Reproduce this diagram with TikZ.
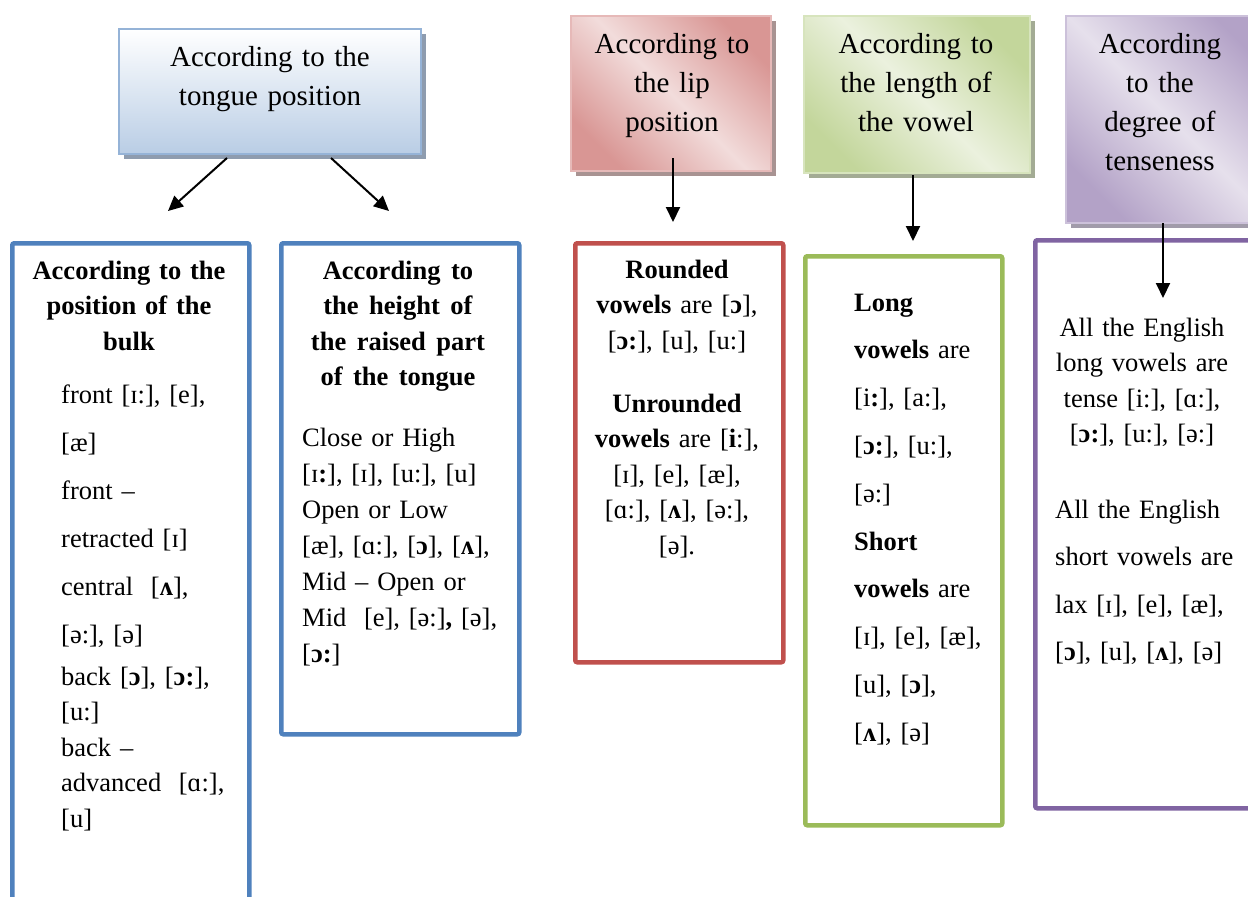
\documentclass[tikz,border=0pt]{standalone}
\usepackage{fontspec}
\setmainfont{Liberation Serif}
\usetikzlibrary{arrows.meta,shadows}
\definecolor{bblue}{HTML}{4F81BD}
\definecolor{bred}{HTML}{C0504D}
\definecolor{bgreen}{HTML}{9BBB59}
\definecolor{bpurple}{HTML}{8064A2}
\definecolor{tblueL}{HTML}{B9CDE5}
\definecolor{tblueB}{HTML}{95B3D7}
\definecolor{tblueS}{HTML}{8E9CAF}
\definecolor{tredD}{HTML}{D99694}
\definecolor{tredL}{HTML}{F2DCDB}
\definecolor{tredB}{HTML}{E6B9B8}
\definecolor{tredS}{HTML}{A89392}
\definecolor{tgreenD}{HTML}{C3D69B}
\definecolor{tgreenL}{HTML}{EBF1DE}
\definecolor{tgreenB}{HTML}{D7E4BD}
\definecolor{tgreenS}{HTML}{A3AB94}
\definecolor{tpurD}{HTML}{B3A2C7}
\definecolor{tpurL}{HTML}{E6E0EC}
\definecolor{tpurB}{HTML}{CCC1DA}
\definecolor{tpurS}{HTML}{A19BAA}
\newcommand\wsp{\hspace{10.5pt}}
\tikzset{
  topbox/.style={rectangle, line width=2pt, inner sep=0pt, anchor=north west},
  diagshade/.style 2 args={top color=#1, bottom color=#1, middle color=#2, shading angle=-45},
  botbox/.style={rectangle, line width=4.5pt, rounded corners=2pt, inner sep=0pt, anchor=north west, fill=white},
  tfont/.style={font=\fontsize{29}{39}\selectfont},
  bfont/.style={font=\fontsize{26.5}{35.5}\selectfont},
  ctext/.style={inner sep=0pt, anchor=base, align=center, text width=#1},
  ltext/.style={inner sep=0pt, anchor=base west, align=left, text width=300pt},
  arr/.style={line width=2pt, -{Triangle[length=15pt,width=14pt]}},
}
\begin{document}
\begin{tikzpicture}[x=1pt,y=-1pt]
\useasboundingbox (0,0) rectangle (1248,897);
\clip (0,0) rectangle (1248,897);
% top boxes
\node[topbox, draw=tblueB, top color=white, bottom color=tblueL, minimum width=302pt, minimum height=125pt,
  drop shadow={shadow xshift=5pt, shadow yshift=-5pt, fill=tblueS, opacity=1}] (t1) at (118,28) {};
\node[topbox, draw=tredB, diagshade={tredD}{tredL}, minimum width=200pt, minimum height=155pt,
  drop shadow={shadow xshift=5pt, shadow yshift=-5pt, fill=tredS, opacity=1}] (t2) at (570,15) {};
\node[topbox, draw=tgreenB, diagshade={tgreenD}{tgreenL}, minimum width=226pt, minimum height=157pt,
  drop shadow={shadow xshift=5pt, shadow yshift=-5pt, fill=tgreenS, opacity=1}] (t3) at (803,15) {};
\node[topbox, draw=tpurB, diagshade={tpurD}{tpurL}, minimum width=210pt, minimum height=207pt,
  drop shadow={shadow xshift=5pt, shadow yshift=-5pt, fill=tpurS, opacity=1}] (t4) at (1065,15) {};
\node[tfont, ctext=290pt] (t1txt) at (270,66) {According to the\\tongue position};
\node[tfont, ctext=195pt] (t2txt) at (672,53) {According to\\the lip\\position};
\node[tfont, ctext=220pt] (t3txt) at (916,53) {According to\\the length of\\the vowel};
\node[tfont, ctext=180pt] (t4txt) at (1160,53) {According\\to the\\degree of\\tenseness};
% bottom boxes
\node[botbox, draw=bblue, minimum width=237pt, minimum height=700pt] (ba) at (10,241) {};
\node[botbox, draw=bblue, minimum width=238pt, minimum height=491pt] (bb) at (279,241) {};
\node[botbox, draw=bred, minimum width=208pt, minimum height=419pt] (bc) at (573,241) {};
\node[botbox, draw=bgreen, minimum width=197pt, minimum height=569pt] (bd) at (803,254) {};
\node[botbox, draw=bpurple, minimum width=250pt, minimum height=568pt] (be) at (1033,238) {};
% box A
\node[bfont, ctext=230pt] (aH) at (129,279) {\textbf{According to the}\\\textbf{position of the}\\\textbf{bulk}};
\node[bfont, ltext] (aB) at (61,403) {front [ɪ:], [e],\\[12.5pt]
{}[æ]\\[12.5pt]
front –\\[12.5pt]
retracted [ɪ]\\[12.5pt]
central\ \ [\textbf{ʌ}],\\[12.5pt]
{}[ə:], [ə]\\[6.5pt]
back [\textbf{ɔ}], [\textbf{ɔ:}],\\
{}[u:]\\
back –\\
advanced\ \ [ɑ:],\\
{}[u]};
% box B
\node[bfont, ctext=230pt] (bH) at (398,279) {\textbf{According\wsp to}\\\textbf{the\wsp height\wsp of}\\\textbf{the\wsp raised\wsp part}\\\textbf{of\wsp the\wsp tongue}};
\node[bfont, ltext, font=\fontsize{26.5}{36}\selectfont] (bB) at (302,446) {Close or High\\
{}[ɪ\textbf{:}], [ɪ], [u:], [u]\\
Open or Low\\
{}[æ], [ɑ:], [\textbf{ɔ}], [\textbf{ʌ}],\\
Mid – Open or\\
Mid\ \ [e], [ə:]\textbf{,} [ə],\\
{}[\textbf{ɔ:}]};
% box C
\node[bfont, ctext=200pt] (cT) at (677,278) {\textbf{Rounded}\\
\textbf{vowels} are [\textbf{ɔ}],\\
{}[\textbf{ɔ:}], [u], [u:]\\[27.5pt]
\textbf{Unrounded}\\
\textbf{vowels} are [\textbf{i}:],\\
{}[ɪ], [e], [æ],\\
{}[ɑ:], [\textbf{ʌ}], [ə:],\\
{}[ə].};
% box D
\node[ltext, font=\fontsize{26.5}{47.8}\selectfont] (dT) at (854,311) {\textbf{Long}\\
\textbf{vowels} are\\
{}[i\textbf{:}], [a:],\\
{}[\textbf{ɔ:}], [u:],\\
{}[ə:]\\
\textbf{Short}\\
\textbf{vowels} are\\
{}[ɪ], [e], [æ],\\
{}[u], [\textbf{ɔ}],\\
{}[\textbf{ʌ}], [ə]};
% box E
\node[bfont, ctext=200pt] (eT1) at (1142,336) {All the English\\
long vowels are\\
tense [i:], [ɑ:],\\
{}[\textbf{ɔ:}], [u:], [ə:]};
\node[ltext, font=\fontsize{26.5}{47.5}\selectfont] (eT2) at (1055,518) {All the English\\
short vowels are\\
lax [ɪ], [e], [æ],\\
{}[\textbf{ɔ}], [u], [\textbf{ʌ}], [ə]};
% arrows
\coordinate (a1s) at (227,158); \coordinate (a1e) at (168,211);
\coordinate (a2s) at (331,158); \coordinate (a2e) at (389,211);
\coordinate (a3s) at (673,158); \coordinate (a3e) at (673,222);
\coordinate (a4s) at (913,175); \coordinate (a4e) at (913,241);
\coordinate (a5s) at (1163,223); \coordinate (a5e) at (1163,298);
\draw[arr] (a1s) -- (a1e);
\draw[arr] (a2s) -- (a2e);
\draw[arr] (a3s) -- (a3e);
\draw[arr] (a4s) -- (a4e);
\draw[arr] (a5s) -- (a5e);
\end{tikzpicture}
\end{document}
